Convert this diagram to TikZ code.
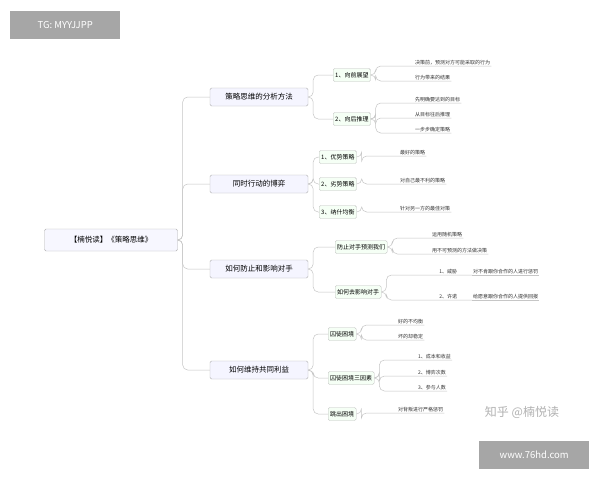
\documentclass[tikz,border=0pt]{standalone}
\usepackage{fontspec}
\setmainfont{Noto Sans CJK SC}
\usetikzlibrary{positioning}
\tikzset{
  box/.style={draw=gray!60, rounded corners=1.5pt, fill=#1, font=\fontsize{7.5}{8}\selectfont, inner sep=2.5pt, minimum height=18pt},
  box/.default=white,
  sub/.style={draw=gray!50, rounded corners=1.5pt, fill=green!4, font=\fontsize{6}{7}\selectfont, inner sep=2pt, minimum height=13pt, anchor=west},
  leaf/.style={font=\fontsize{5}{6}\selectfont, inner sep=1pt, anchor=south west, text=black!80},
  link/.style={draw=gray!45, line width=0.5pt, rounded corners=5pt},
}
\newcommand\br[2]{\draw[link] (#1.east) -- ++(5,0) |- (#2.west);}
\newcommand\lf[2]{\draw[link] (#1.east) -- ++(5,0) |- (#2.south west) -- (#2.south east);}
\begin{document}
\begin{tikzpicture}[x=1pt,y=-1pt]
  \useasboundingbox[fill=white] (0,0) rectangle (600,480);
  % watermarks
  \node[fill=gray!70, text=white, font=\fontsize{9.5}{10}\selectfont, minimum width=110, minimum height=28, anchor=north west] (tg) at (10,11) {TG: MYYJJPP};
  \node[fill=gray!70, text=white, font=\fontsize{9.5}{10}\selectfont, minimum width=110, minimum height=28, anchor=north west] (web) at (479,441) {www.76hd.com};
  \node[text=gray!60, font=\fontsize{12}{13}\selectfont] (zh) at (522,412) {知乎 @楠悦读};
  % root and main branches
  \node[box=blue!3, minimum width=133, minimum height=22] (root) at (111,240) {【楠悦读】《策略思维》};
  \node[box=blue!4, minimum width=98] (m1) at (259,97) {策略思维的分析方法};
  \node[box=blue!4, minimum width=98] (m2) at (259,184) {同时行动的博弈};
  \node[box=blue!4, minimum width=98] (m3) at (259,269) {如何防止和影响对手};
  \node[box=blue!4, minimum width=98] (m4) at (259,370) {如何维持共同利益};
  \foreach \m in {m1,m2,m3,m4} {\br{root}{\m}}
  % second level
  \node[sub] (a1) at (333,75) {1、向前展望};
  \node[sub] (a2) at (333,119) {2、向后推理};
  \node[sub] (b1) at (319,157) {1、优势策略};
  \node[sub] (b2) at (319,184) {2、劣势策略};
  \node[sub] (b3) at (319,212) {3、纳什均衡};
  \node[sub] (c1) at (335,247) {防止对手预测我们};
  \node[sub] (c2) at (335,292) {如何去影响对手};
  \node[sub] (d1) at (328,334) {囚徒困境};
  \node[sub] (d2) at (328,378) {囚徒困境三因素};
  \node[sub] (d3) at (328,414) {跳出困境};
  \br{m1}{a1} \br{m1}{a2}
  \br{m2}{b1} \br{m2}{b2} \br{m2}{b3}
  \br{m3}{c1} \br{m3}{c2}
  \br{m4}{d1} \br{m4}{d2} \br{m4}{d3}
  % leaves
  \node[leaf] (a11) at (414,66) {决策前，预测对方可能采取的行为};
  \node[leaf] (a12) at (414,81) {行为带来的结果};
  \node[leaf] (a21) at (414,103) {先明确要达到的目标};
  \node[leaf] (a22) at (414,118) {从目标往后推理};
  \node[leaf] (a23) at (414,133) {一步步确定策略};
  \node[leaf] (b11) at (399,156) {最好的策略};
  \node[leaf] (b21) at (399,184) {对自己最不利的策略};
  \node[leaf] (b31) at (399,212) {针对另一方的最佳对策};
  \node[leaf] (c11) at (431,238) {运用随机策略};
  \node[leaf] (c12) at (431,254) {用不可预测的方法做决策};
  \node[leaf, minimum width=48] (c21) at (424,275) {1、威胁};
  \node[leaf] (c211) at (472,275) {对不肯跟你合作的人进行惩罚};
  \node[leaf, minimum width=48] (c22) at (424,300) {2、许诺};
  \node[leaf] (c221) at (472,300) {给愿意跟你合作的人提供回报};
  \node[leaf] (d11) at (397,325) {好的不均衡};
  \node[leaf] (d12) at (397,340) {坏的却稳定};
  \node[leaf] (d21) at (417,360) {1、成本和收益};
  \node[leaf] (d22) at (417,376) {2、博弈次数};
  \node[leaf] (d23) at (417,391) {3、参与人数};
  \node[leaf] (d31) at (397,413) {对背叛进行严格惩罚};
  \lf{a1}{a11} \lf{a1}{a12}
  \lf{a2}{a21} \lf{a2}{a22} \lf{a2}{a23}
  \lf{b1}{b11} \lf{b2}{b21} \lf{b3}{b31}
  \lf{c1}{c11} \lf{c1}{c12}
  \lf{c2}{c21} \lf{c2}{c22}
  \draw[link] (c21.south east) -- (c211.south east);
  \draw[link] (c22.south east) -- (c221.south east);
  \lf{d1}{d11} \lf{d1}{d12}
  \lf{d2}{d21} \lf{d2}{d22} \lf{d2}{d23}
  \lf{d3}{d31}
\end{tikzpicture}
\end{document}
